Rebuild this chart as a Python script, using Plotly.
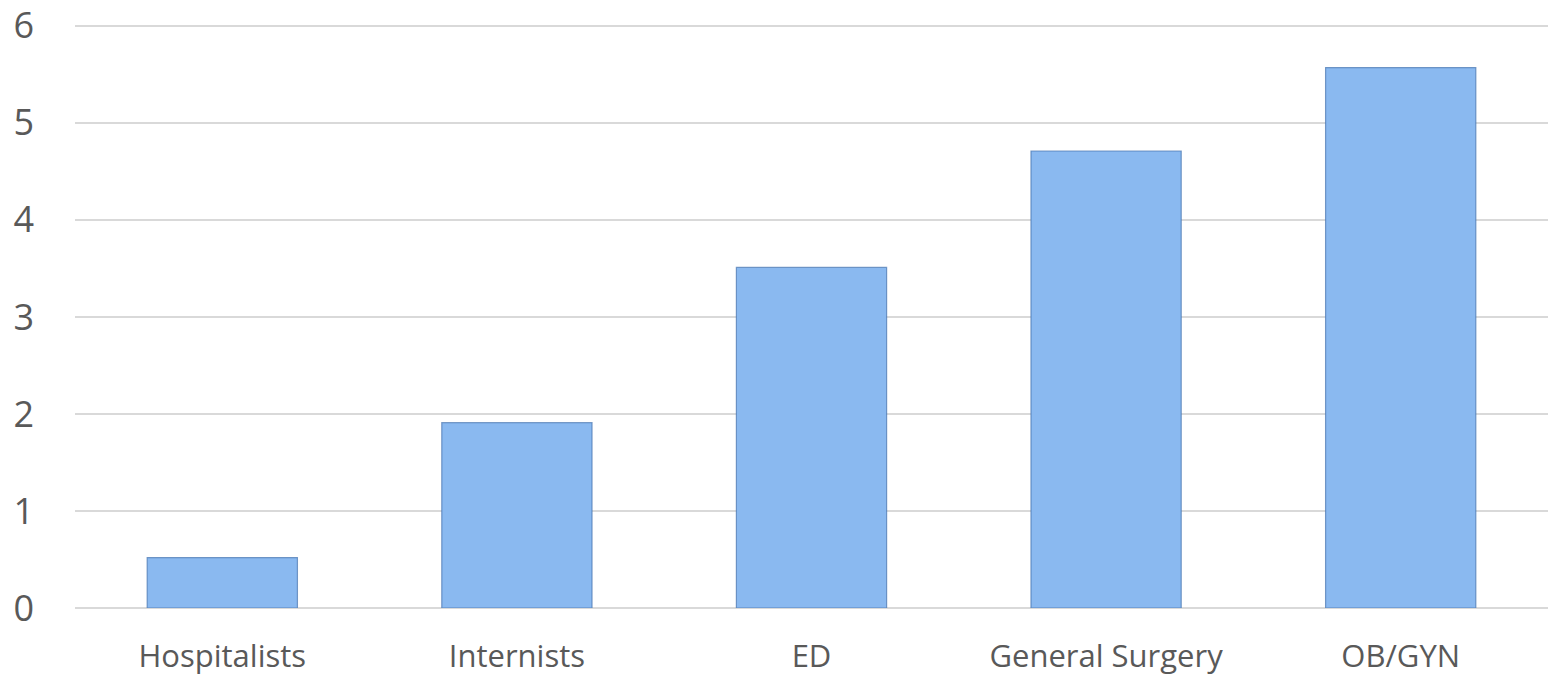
import plotly.graph_objects as go

categories = ["Hospitalists", "Internists", "ED", "General Surgery", "OB/GYN"]
values = [0.52, 1.91, 3.51, 4.71, 5.57]
y_ticks = [0, 1, 2, 3, 4, 5, 6]

fig = go.Figure()
fig.add_trace(go.Bar(
    x=categories,
    y=values,
    width=0.51,
    marker=dict(color="#8ab9f0", line=dict(color="rgba(70,115,175,0.7)", width=1.2)),
    showlegend=False,
))

fig.update_layout(
    width=1548,
    height=677,
    margin=dict(l=75, r=0, t=14, b=69),
    paper_bgcolor="white",
    plot_bgcolor="white",
    font=dict(family="Open Sans, sans-serif", color="#595959"),
    xaxis=dict(
        tickfont=dict(size=31, color="#595959"),
        showgrid=False,
        showline=False,
        ticks="",
        ticklabelstandoff=27,
    ),
    yaxis=dict(
        range=[0, 6.06],
        tickvals=y_ticks,
        tickfont=dict(size=36, color="#595959"),
        showgrid=True,
        gridcolor="#d9d9d9",
        gridwidth=1.5,
        zeroline=True,
        zerolinecolor="#d9d9d9",
        zerolinewidth=1.5,
        showline=False,
        ticks="",
        ticklabelstandoff=40,
        ticklabeloverflow="allow",
    ),
    bargap=0.49,
)

fig.write_html("out.html")
